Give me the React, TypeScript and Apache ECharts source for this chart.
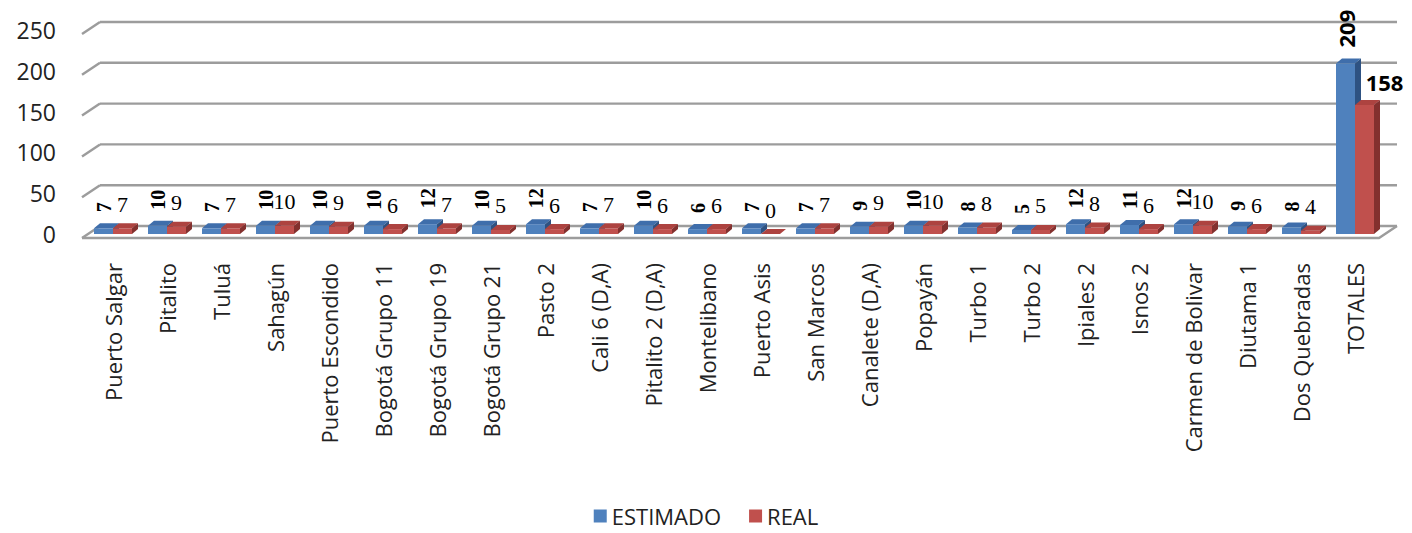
import React, { useEffect, useRef } from "react";
import * as echarts from "echarts";

const categories = [
  "Puerto Salgar", "Pitalito", "Tuluá", "Sahagún", "Puerto Escondido",
  "Bogotá Grupo 11", "Bogotá Grupo 19", "Bogotá Grupo 21", "Pasto 2",
  "Cali 6 (D,A)", "Pitalito 2 (D,A)", "Montelibano", "Puerto Asis",
  "San Marcos", "Canalete (D,A)", "Popayán", "Turbo 1", "Turbo 2",
  "Ipiales 2", "Isnos 2", "Carmen de Bolivar", "Diutama 1",
  "Dos Quebradas", "TOTALES",
];
const estimado = [7, 10, 7, 10, 10, 10, 12, 10, 12, 7, 10, 6, 7, 7, 9, 10, 8, 5, 12, 11, 12, 9, 8, 209];
const real = [7, 9, 7, 10, 9, 6, 7, 5, 6, 7, 6, 6, 0, 7, 9, 10, 8, 5, 8, 6, 10, 6, 4, 158];
const yTicks = [0, 50, 100, 150, 200, 250];

const BLUE = "#4f81bd";
const BLUE_TOP = "#3f6eab";
const BLUE_SIDE = "#2e5282";
const RED = "#c0504d";
const RED_TOP = "#ad4340";
const RED_SIDE = "#83302e";
const BAR_W = 19;
const BAR_DX = 6;
const BAR_DY = 5;
const FRAME_DX = 18;
const FRAME_DY = 12;
const FRAME_COLOR = "#9c9c9c";

const serif = "'Liberation Serif', 'DejaVu Serif', serif";
const sans = "'Open Sans', 'Noto Sans', sans-serif";

function faces(offset: number, topColor: string, sideColor: string, withLabel: boolean) {
  return (params: any, api: any) => {
    const i = api.value(0);
    const v = api.value(1);
    const base = api.coord([i, 0]);
    const top = api.coord([i, v]);
    const L = base[0] + offset;
    const R = L + BAR_W;
    const yt = top[1];
    const yb = base[1];
    const children: any[] = [
      {
        type: "polygon",
        shape: { points: [[L, yt], [L + BAR_DX, yt - BAR_DY], [R + BAR_DX, yt - BAR_DY], [R, yt]] },
        style: { fill: topColor },
      },
      {
        type: "polygon",
        shape: { points: [[R, yt], [R + BAR_DX, yt - BAR_DY], [R + BAR_DX, yb - BAR_DY], [R, yb]] },
        style: { fill: sideColor },
      },
    ];
    if (withLabel) {
      const isTotal = params.dataIndex === categories.length - 1;
      children.push({
        type: "text",
        x: (L + R) / 2,
        y: yt - 16,
        rotation: Math.PI / 2,
        style: {
          text: String(v),
          align: "left",
          verticalAlign: "middle",
          fill: "#000",
          fontFamily: isTotal ? sans : serif,
          fontWeight: "bold",
          fontSize: isTotal ? 22 : 20,
        },
      });
    }
    return { type: "group", children };
  };
}

function frame(params: any, api: any) {
  const v = api.value(1);
  const p0 = api.coord([0, v]);
  const p1 = api.coord([1, v]);
  const children: any[] = [
    {
      type: "line",
      shape: { x1: p0[0], y1: p0[1], x2: p1[0], y2: p1[1] },
      style: { stroke: FRAME_COLOR, lineWidth: 2.4 },
    },
    {
      type: "line",
      shape: { x1: p0[0] - FRAME_DX, y1: p0[1] + FRAME_DY, x2: p0[0], y2: p0[1] },
      style: { stroke: FRAME_COLOR, lineWidth: 2.4 },
    },
  ];
  if (v === 0) {
    children.push({
      type: "polyline",
      shape: {
        points: [
          [p0[0] - FRAME_DX, p0[1] + FRAME_DY],
          [p1[0] - FRAME_DX, p1[1] + FRAME_DY],
          [p1[0], p1[1]],
        ],
      },
      style: { stroke: FRAME_COLOR, lineWidth: 2.4, fill: null },
    });
  }
  return { type: "group", children };
}

export default function App() {
  const ref = useRef<HTMLDivElement>(null);
  useEffect(() => {
    document.body.style.margin = "0";
    document.body.style.overflow = "hidden";
    const chart = echarts.init(ref.current!, undefined, { renderer: "svg" });
    const n = categories.length;
    const realData = real.map((v, i) =>
      i === n - 1
        ? {
            value: v,
            label: {
              fontFamily: sans,
              fontWeight: "bold",
              fontSize: 22,
              distance: 12,
              offset: [20, 0],
            },
          }
        : v
    );
    chart.setOption({
      animation: false,
      backgroundColor: "#ffffff",
      grid: [
        { left: 86, right: 30, top: 30, bottom: 299 },
        { left: 100, right: 15, top: 22, bottom: 307 },
      ],
      legend: {
        data: ["ESTIMADO", "REAL"],
        left: "center",
        top: 500,
        icon: "rect",
        itemWidth: 13,
        itemHeight: 13,
        itemGap: 28,
        textStyle: { fontFamily: sans, fontSize: 22, lineHeight: 22, color: "#222" },
      },
      xAxis: [
        {
          type: "category",
          gridIndex: 0,
          data: categories,
          axisLine: { show: false },
          axisTick: { show: false },
          axisLabel: {
            rotate: 90,
            interval: 0,
            margin: 29,
            fontFamily: sans,
            fontSize: 22,
            color: "#222",
          },
        },
        { type: "value", gridIndex: 1, min: 0, max: 1, show: false },
      ],
      yAxis: [
        {
          type: "value",
          gridIndex: 0,
          min: 0,
          max: 250,
          interval: 50,
          axisLine: { show: false },
          axisTick: { show: false },
          splitLine: { show: false },
          axisLabel: { margin: 30, fontFamily: sans, fontSize: 23, color: "#222" },
        },
        { type: "value", gridIndex: 1, min: 0, max: 250, interval: 50, show: false },
      ],
      series: [
        {
          type: "custom",
          name: "frame",
          xAxisIndex: 1,
          yAxisIndex: 1,
          z: 0,
          silent: true,
          clip: false,
          data: yTicks.map((v) => [0, v]),
          renderItem: frame,
        },
        {
          type: "custom",
          name: "estFaces",
          xAxisIndex: 0,
          yAxisIndex: 0,
          z: 1,
          clip: false,
          silent: true,
          data: estimado.map((v, i) => [i, v]),
          renderItem: faces(-BAR_W, BLUE_TOP, BLUE_SIDE, true),
        },
        {
          type: "bar",
          name: "ESTIMADO",
          xAxisIndex: 0,
          yAxisIndex: 0,
          z: 2,
          barWidth: BAR_W,
          barGap: "0%",
          itemStyle: { color: BLUE },
          data: estimado,
        },
        {
          type: "bar",
          name: "REAL",
          xAxisIndex: 0,
          yAxisIndex: 0,
          z: 2,
          barWidth: BAR_W,
          barGap: "0%",
          itemStyle: { color: RED },
          label: {
            show: true,
            position: "top",
            distance: 13,
            fontFamily: serif,
            fontSize: 22,
            color: "#000",
          },
          data: realData,
        },
        {
          type: "custom",
          name: "realFaces",
          xAxisIndex: 0,
          yAxisIndex: 0,
          z: 3,
          clip: false,
          silent: true,
          data: real.map((v, i) => [i, v]),
          renderItem: faces(0, RED_TOP, RED_SIDE, false),
        },
      ],
    });
    return () => chart.dispose();
  }, []);
  return <div ref={ref} style={{ width: 1412, height: 533 }} />;
}
